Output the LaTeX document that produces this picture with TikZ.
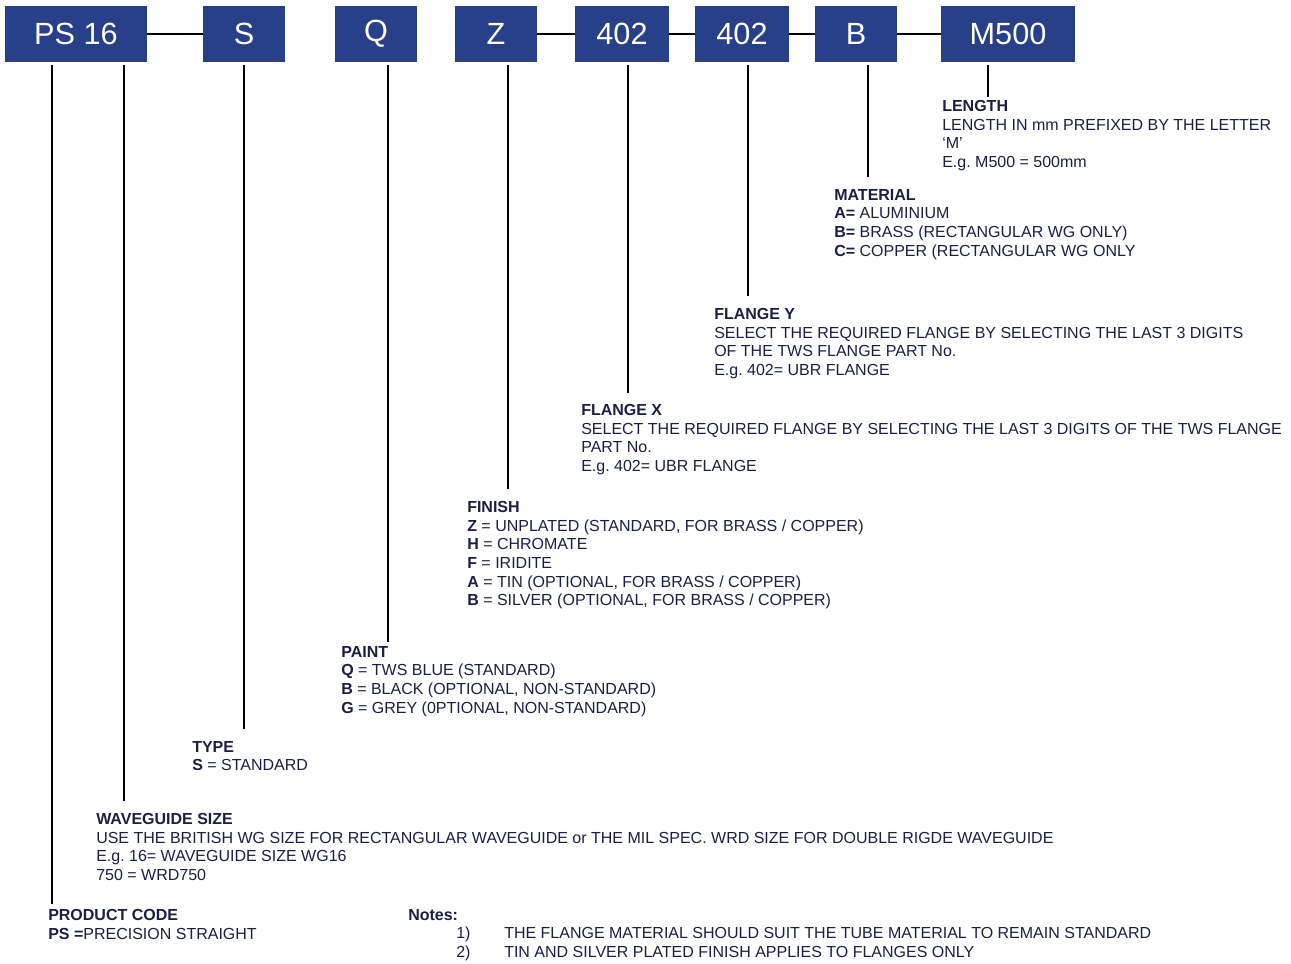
\documentclass[tikz,border=0pt]{standalone}
\usepackage{fontspec}
\setmainfont{Liberation Sans}
\usepackage{xcolor}
\usetikzlibrary{positioning}
\definecolor{twsblue}{RGB}{40,63,138}
\definecolor{twstext}{RGB}{28,32,64}
\frenchspacing

\begin{document}
\begin{tikzpicture}[x=0.75pt,y=-0.75pt,
  codebox/.style={fill=twsblue,text=white,font=\fontsize{23}{23}\selectfont,minimum height=42pt,inner sep=0pt,outer sep=0pt},
  desc/.style={anchor=north west,align=left,inner sep=0pt,text=twstext,font=\fontsize{12}{14}\selectfont},
  link/.style={line width=1.2pt}]
\useasboundingbox (0,0) rectangle (1291,963);

% Code boxes
\node[codebox,minimum width=106.5pt] (ps) at (76,34) {PS 16};
\node[codebox,minimum width=61.5pt,right=42pt of ps] (type) {S};
\node[codebox,minimum width=61.5pt,right=37.5pt of type] (paint) {Q};
\node[codebox,minimum width=61.5pt,right=28.5pt of paint] (finish) {Z};
\node[codebox,minimum width=70.5pt,right=28.5pt of finish] (flx) {402};
\node[codebox,minimum width=70.5pt,right=19.5pt of flx] (fly) {402};
\node[codebox,minimum width=61.5pt,right=19.5pt of fly] (mat) {B};
\node[codebox,minimum width=100.5pt,right=33pt of mat] (len) {M500};

\draw[link] (ps) -- (type);
\draw[link] (finish) -- (flx);
\draw[link] (flx) -- (fly);
\draw[link] (fly) -- (mat);
\draw[link] (mat) -- (len);

% Descriptions
\node[desc] (lend) at (942,100) {\textbf{LENGTH}\\LENGTH IN mm PREFIXED BY THE LETTER\\‘M’\\E.g. M500 = 500mm};
\node[desc] (matd) at (834,189) {\textbf{MATERIAL}\\\textbf{A=} ALUMINIUM\\\textbf{B=} BRASS (RECTANGULAR WG ONLY)\\\textbf{C=} COPPER (RECTANGULAR WG ONLY};
\node[desc] (flyd) at (714,308) {\textbf{FLANGE Y}\\SELECT THE REQUIRED FLANGE BY SELECTING THE LAST 3 DIGITS\\OF THE TWS FLANGE PART No.\\E.g. 402= UBR FLANGE};
\node[desc] (flxd) at (581,404) {\textbf{FLANGE X}\\SELECT THE REQUIRED FLANGE BY SELECTING THE LAST 3 DIGITS OF THE TWS FLANGE\\PART No.\\E.g. 402= UBR FLANGE};
\node[desc] (finishd) at (467,501) {\textbf{FINISH}\\\textbf{Z} = UNPLATED (STANDARD, FOR BRASS / COPPER)\\\textbf{H} = CHROMATE\\\textbf{F} = IRIDITE\\\textbf{A} = TIN (OPTIONAL, FOR BRASS / COPPER)\\\textbf{B} = SILVER (OPTIONAL, FOR BRASS / COPPER)};
\node[desc] (paintd) at (341,646) {\textbf{PAINT}\\\textbf{Q} = TWS BLUE (STANDARD)\\\textbf{B} = BLACK (OPTIONAL, NON-STANDARD)\\\textbf{G} = GREY (0PTIONAL, NON-STANDARD)};
\node[desc] (typed) at (192,741) {\textbf{TYPE}\\\textbf{S} = STANDARD};
\node[desc] (wgd) at (96,813) {\textbf{WAVEGUIDE SIZE}\\USE THE BRITISH WG SIZE FOR RECTANGULAR WAVEGUIDE or THE MIL SPEC. WRD SIZE FOR DOUBLE RIGDE WAVEGUIDE\\E.g. 16= WAVEGUIDE SIZE WG16\\750 = WRD750};
\node[desc] (pcd) at (48,909) {\textbf{PRODUCT CODE}\\\textbf{PS =}PRECISION STRAIGHT};

% Notes
\node[desc] (notes) at (408,909) {\textbf{Notes:}\\\hspace*{36pt}\makebox[36pt][l]{1)}THE FLANGE MATERIAL SHOULD SUIT THE TUBE MATERIAL TO REMAIN STANDARD\\\hspace*{36pt}\makebox[36pt][l]{2)}TIN AND SILVER PLATED FINISH APPLIES TO FLANGES ONLY};

% Leader lines
\coordinate (lenb) at ([shift={(46,-3)}]lend.north west);
\coordinate (matb) at ([shift={(34,-12)}]matd.north west);
\coordinate (flyb) at ([shift={(34,-12)}]flyd.north west);
\coordinate (flxb) at ([shift={(47,-11)}]flxd.north west);
\coordinate (finishb) at ([shift={(41,-12)}]finishd.north west);
\coordinate (paintb) at ([shift={(47,-4)}]paintd.north west);
\coordinate (typeb) at ([shift={(52,-12)}]typed.north west);
\coordinate (wgb) at ([shift={(28,-12)}]wgd.north west);
\coordinate (pcb) at ([shift={(4,-5)}]pcd.north west);

\draw[link,shorten <=2.25pt] (lenb |- len.south) -- (lenb);
\draw[link,shorten <=2.25pt] (matb |- mat.south) -- (matb);
\draw[link,shorten <=2.25pt] (flyb |- fly.south) -- (flyb);
\draw[link,shorten <=2.25pt] (flxb |- flx.south) -- (flxb);
\draw[link,shorten <=2.25pt] (finishb |- finish.south) -- (finishb);
\draw[link,shorten <=2.25pt] (paintb |- paint.south) -- (paintb);
\draw[link,shorten <=2.25pt] (typeb |- type.south) -- (typeb);
\draw[link,shorten <=2.25pt] (wgb |- ps.south) -- (wgb);
\draw[link,shorten <=2.25pt] (pcb |- ps.south) -- (pcb);

\end{tikzpicture}
\end{document}
